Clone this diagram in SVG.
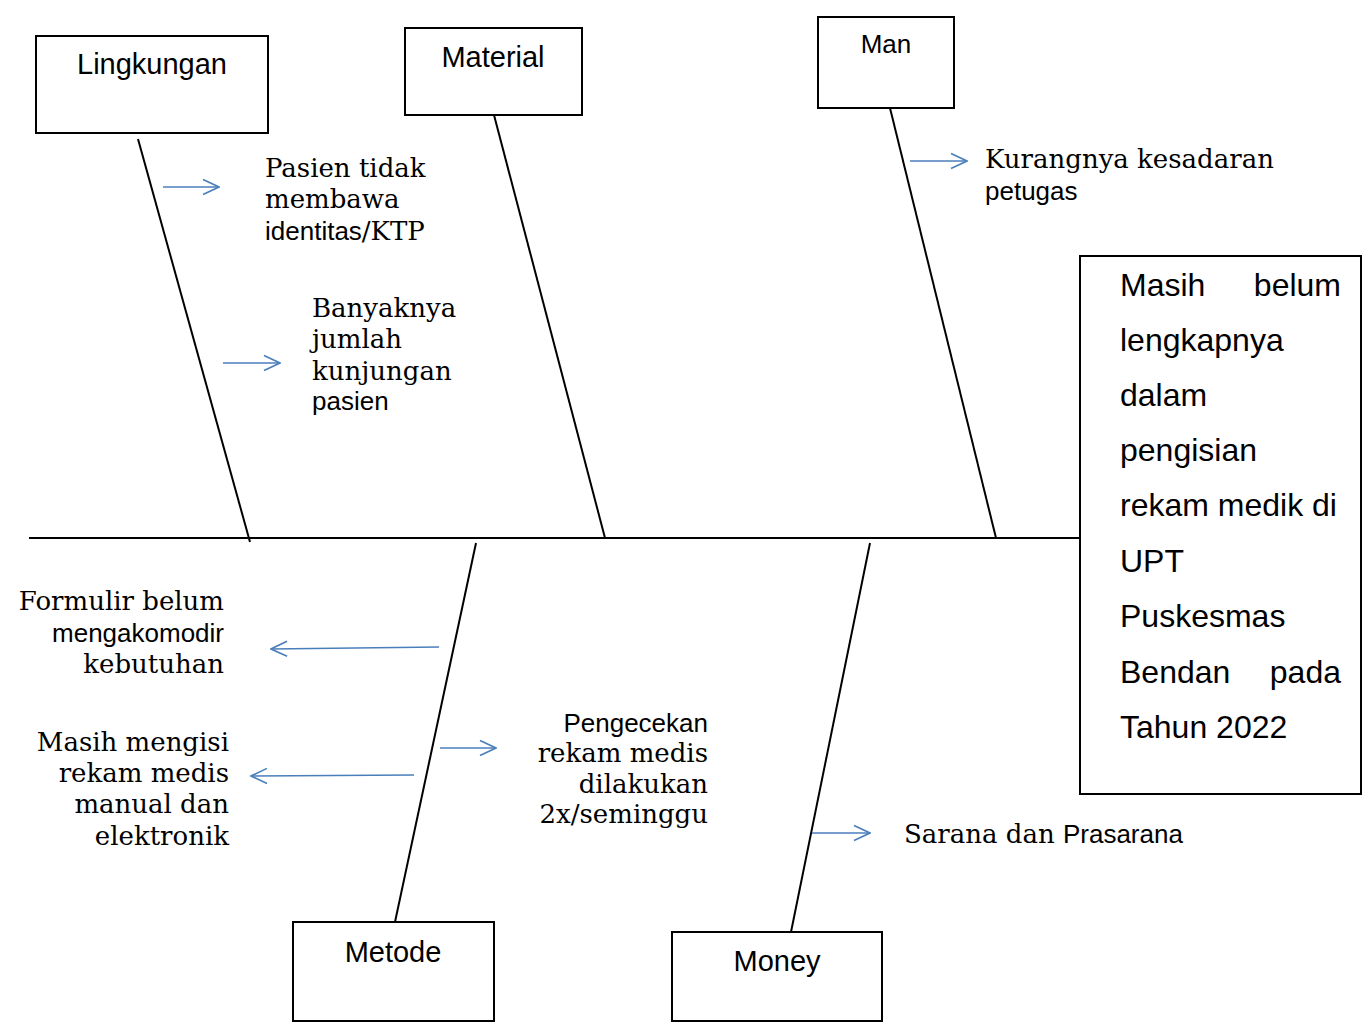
<svg xmlns="http://www.w3.org/2000/svg" width="1364" height="1024" viewBox="0 0 1364 1024">
<style>
.box{fill:#fff;stroke:#000;stroke-width:2}
.bone{stroke:#000;stroke-width:2;fill:none}
.arr{stroke:#4a7ebb;stroke-width:1.6;fill:none;marker-end:url(#chev)}
.lbl{font-family:"Liberation Sans",Arial,sans-serif;font-size:29px;fill:#000;text-anchor:middle}
.main{font-family:"Liberation Sans",Arial,sans-serif;font-size:32px;fill:#000}
.sf{font-family:"DejaVu Serif","Liberation Serif",serif;font-size:26px;fill:#000}
.ss{font-family:"Liberation Sans",Arial,sans-serif;font-size:26px}
.r{text-anchor:end}
</style>
<defs>
<marker id="chev" viewBox="0 0 18 18" refX="17" refY="9" markerWidth="18" markerHeight="18" markerUnits="userSpaceOnUse" orient="auto">
<path d="M1,1.5 L17,9 L1,16.5" stroke="#4a7ebb" stroke-width="1.6" fill="none"/>
</marker>
</defs>
<rect width="1364" height="1024" fill="#fff"/>
<g id="connectors">
<line class="bone" x1="29" y1="538" x2="1080" y2="538"/>
<line class="bone" x1="138" y1="139" x2="250" y2="542"/>
<line class="bone" x1="494" y1="115" x2="605" y2="538"/>
<line class="bone" x1="890" y1="108" x2="996" y2="538"/>
<line class="bone" x1="476" y1="543" x2="395" y2="922"/>
<line class="bone" x1="870" y1="543" x2="791" y2="932"/>
<line class="arr" x1="163" y1="187" x2="219" y2="187"/>
<line class="arr" x1="223" y1="363" x2="280" y2="363"/>
<line class="arr" x1="910" y1="161" x2="967" y2="161"/>
<line class="arr" x1="439" y1="647" x2="271" y2="649"/>
<line class="arr" x1="414" y1="775" x2="251" y2="776"/>
<line class="arr" x1="440" y1="748" x2="496" y2="748"/>
<line class="arr" x1="812" y1="833" x2="870" y2="833"/>
</g>
<g id="lingkungan">
<rect class="box" x="36" y="36" width="232" height="97"/>
<text class="lbl" x="152" y="74">Lingkungan</text>
</g>
<g id="material">
<rect class="box" x="405" y="28" width="177" height="87"/>
<text class="lbl" x="493" y="67">Material</text>
</g>
<g id="man">
<rect class="box" x="818" y="17" width="136" height="91"/>
<text class="lbl" x="886" y="53" style="font-size:26px">Man</text>
</g>
<g id="metode">
<rect class="box" x="293" y="922" width="201" height="99"/>
<text class="lbl" x="393" y="962">Metode</text>
</g>
<g id="money">
<rect class="box" x="672" y="932" width="210" height="89"/>
<text class="lbl" x="777" y="971">Money</text>
</g>
<g id="effect">
<rect class="box" x="1080" y="256" width="281" height="538"/>
<text class="main" x="1120" y="296">Masih</text>
<text class="main r" x="1341" y="296">belum</text>
<text class="main" x="1120" y="351">lengkapnya</text>
<text class="main" x="1120" y="406">dalam</text>
<text class="main" x="1120" y="461">pengisian</text>
<text class="main" x="1120" y="516">rekam medik di</text>
<text class="main" x="1120" y="572">UPT</text>
<text class="main" x="1120" y="627">Puskesmas</text>
<text class="main" x="1120" y="683">Bendan</text>
<text class="main r" x="1341" y="683">pada</text>
<text class="main" x="1120" y="738">Tahun 2022</text>
</g>
<g id="cause-pasien-tidak">
<text class="sf" x="265" y="177">Pasien tidak</text>
<text class="sf" x="265" y="208">membawa</text>
<text class="sf" x="265" y="240"><tspan class="ss">identitas</tspan>/KTP</text>
</g>
<g id="cause-banyaknya">
<text class="sf" x="312" y="317">Banyaknya</text>
<text class="sf" x="312" y="348">jumlah</text>
<text class="sf" x="312" y="380">kunjungan</text>
<text class="sf" x="312" y="410"><tspan class="ss">pasien</tspan></text>
</g>
<g id="cause-kurangnya">
<text class="sf" x="985" y="168">Kurangnya kesadaran</text>
<text class="sf" x="985" y="200"><tspan class="ss">petugas</tspan></text>
</g>
<g id="cause-formulir">
<text class="sf r" x="224" y="610">Formulir belum</text>
<text class="sf r" x="224" y="642"><tspan class="ss">mengakomodir</tspan></text>
<text class="sf r" x="224" y="673">kebutuhan</text>
</g>
<g id="cause-masih-mengisi">
<text class="sf r" x="229" y="751">Masih mengisi</text>
<text class="sf r" x="229" y="782">rekam medis</text>
<text class="sf r" x="229" y="813">manual dan</text>
<text class="sf r" x="229" y="845">elektronik</text>
</g>
<g id="cause-pengecekan">
<text class="sf r" x="708" y="732"><tspan class="ss">Pengecekan</tspan></text>
<text class="sf r" x="708" y="762">rekam medis</text>
<text class="sf r" x="708" y="793">dilakukan</text>
<text class="sf r" x="708" y="823">2x/seminggu</text>
</g>
<g id="cause-sarana">
<text class="sf" x="904" y="843">Sarana dan <tspan class="ss">Prasarana</tspan></text>
</g>
</svg>
